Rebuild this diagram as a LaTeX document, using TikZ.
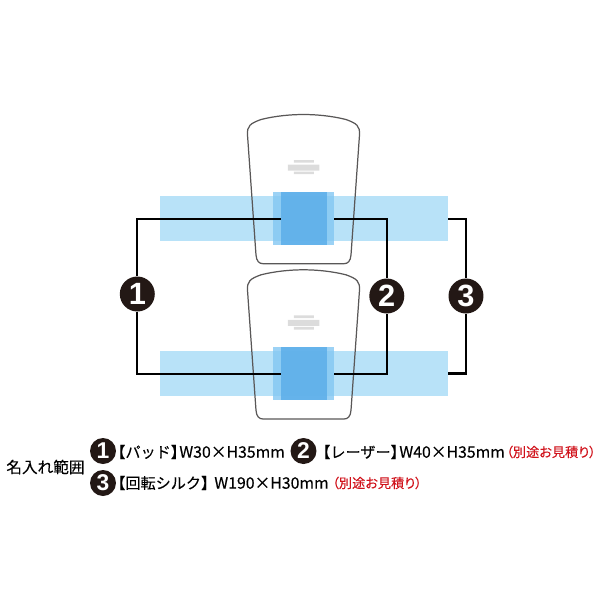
\documentclass[tikz,border=0pt]{standalone}
\usepackage{fontspec}
\setmainfont{Liberation Sans}
\newfontfamily\jpfont[FakeBold=0.2]{Noto Sans CJK JP}
\newfontfamily\notefont[FakeBold=0.2,RawFeature=+palt]{Noto Sans CJK JP}
\usetikzlibrary{positioning}
\definecolor{bandblue}{HTML}{B8E2F8}
\definecolor{laserblue}{HTML}{83C7F2}
\definecolor{padblue}{HTML}{5CAEE9}
\definecolor{cupgray}{HTML}{595757}
\definecolor{logogray}{HTML}{DCDCDC}
\definecolor{badgeblack}{HTML}{231815}
\definecolor{notered}{HTML}{D0121B}
% one cup, y offset in pixels
\newcommand{\drawglass}[1]{
  \draw[cup line,yshift=#1*-0.02cm] (247.5,135)
    .. controls (247,126) and (250,123.5) .. (261,119.5)
    .. controls (275,116) and (290,114.5) .. (303.5,114.5)
    .. controls (317,114.5) and (332,116) .. (346,119.5)
    .. controls (357,123.5) and (360,126) .. (359.5,135)
    -- (351,255) .. controls (350.5,261) and (348,263.7) .. (344,263.7)
    -- (263,263.7) .. controls (259,263.7) and (256.5,261) .. (256,255) -- cycle;
  \fill[logogray,yshift=#1*-0.02cm] (294,160) rectangle (314,162.7)
    (288,164.5) rectangle (319.5,170.5)
    (294,171.5) rectangle (314,174.2);
}
\begin{document}
\begin{tikzpicture}[x=0.02cm,y=-0.02cm,
  cup line/.style={draw=cupgray,line width=0.7pt},
  band/.style={fill=bandblue,inner sep=0pt,minimum width=5.76cm,minimum height=0.9cm},
  laser/.style={fill=laserblue,fill opacity=0.8,inner sep=0pt,minimum width=1.214cm,minimum height=1.06cm},
  pad/.style={fill=padblue,fill opacity=0.85,inner sep=0pt,minimum width=0.914cm,minimum height=1.06cm},
  lead/.style={draw=black,line width=1.2pt},
  badge/.style={circle,fill=badgeblack,text=white,inner sep=0pt,minimum size=0.7cm,font=\fontsize{17.5}{17.5}\selectfont\bfseries},
  small badge/.style={circle,fill=badgeblack,text=white,inner sep=0pt,minimum size=0.52cm,font=\fontsize{13}{13}\selectfont\bfseries},
  legend/.style={anchor=west,inner sep=0pt,font=\fontsize{8.6}{9}\jpfont},
  size/.style={anchor=west,inner sep=0pt,font=\fontsize{9}{9}\jpfont},
  title/.style={anchor=west,inner sep=0pt,font=\fontsize{8.9}{9}\jpfont},
  note/.style={anchor=west,inner sep=0pt,text=notered,font=\fontsize{7.5}{8}\notefont}]
\useasboundingbox (0,0) rectangle (600,600);

% bands round the cups
  \node[band] (bandA) at (304,218.6) {};
  \node[band] (bandB) at (304,373.5) {};

% cups
  \drawglass{0}
  \drawglass{155.3}

% print areas
  \node[laser] (laserA) at (303.7,218.8) {};
  \node[laser] (laserB) at (303.7,373.6) {};
  \node[pad] (padA) at (303.85,218.8) {};
  \node[pad] (padB) at (303.85,373.6) {};

% number badges
  \node[badge] (one) at (137.3,294) {1};
  \node[badge] (two) at (386.8,296) {2};
  \node[badge] (three) at (466,296) {3};

% leads
  \draw[lead] (one) |- (padA.west);
  \draw[lead] (one) |- (padB.west);
  \draw[lead] (two) |- (laserA.east);
  \draw[lead] (two) |- (laserB.east);
  \draw[lead] (three) |- (bandA.east);
  \draw[lead] (three) |- (bandB.east);

% legend
  \node[title] (heading) at (6,467) {名入れ範囲};
  \node[small badge] (keyone) at (103,451) {1};
  \node[legend] (padtext) at (110,452) {【パッド】};
  \node[size] (padsize) at (179,452) {W30×H35mm};
  \node[small badge] (keytwo) at (303.5,451) {2};
  \node[legend] (lasertext) at (315,452) {【レーザー】};
  \node[size] (lasersize) at (399,452) {W40×H35mm};
  \node[note] (lasernote) at (506,452) {（別途お見積り）};
  \node[small badge] (keythree) at (103,483) {3};
  \node[legend] (silktext) at (110,483) {【回転シルク】};
  \node[size] (silksize) at (214,483) {W190×H30mm};
  \node[note] (silknote) at (332,483) {（別途お見積り）};
\end{tikzpicture}
\end{document}
